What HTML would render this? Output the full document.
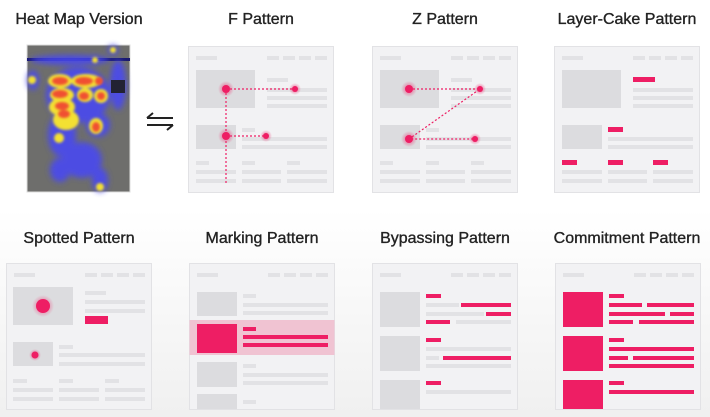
<!DOCTYPE html>
<html><head><meta charset="utf-8"><style>
html,body{margin:0;padding:0;width:710px;height:417px;overflow:hidden;background:#fff}
svg{display:block}
text{font-family:"Liberation Sans",sans-serif;font-size:16px;fill:#222;text-anchor:middle;stroke:#222;stroke-width:0.35}
.g{fill:#e2e2e5}.im{fill:#dcdcdf}.p{fill:#ee1e64}.pn{fill:#f2f2f4;stroke:#e2e2e5;stroke-width:1}
</style></head><body>
<svg width="710" height="417" viewBox="0 0 710 417" xmlns="http://www.w3.org/2000/svg">
<defs>
<linearGradient id="bg" x1="0" y1="0" x2="0" y2="1"><stop offset="0.5" stop-color="#fff"/><stop offset="1" stop-color="#f0f0f0"/></linearGradient>
<filter id="bl" x="-50%" y="-50%" width="200%" height="200%"><feGaussianBlur stdDeviation="3"/></filter>
<filter id="bl2" x="-50%" y="-50%" width="200%" height="200%"><feGaussianBlur stdDeviation="1.2"/></filter>
<radialGradient id="glow"><stop offset="0.5" stop-color="#ee1e64" stop-opacity="0.35"/><stop offset="1" stop-color="#ee1e64" stop-opacity="0"/></radialGradient>
<g id="hdr">
<rect class="pn" x="0.5" y="0.5" width="145" height="146"/>
<rect class="g" x="8" y="10" width="21" height="4"/>
<rect class="g" x="79" y="10" width="12" height="4"/><rect class="g" x="95" y="10" width="12" height="4"/><rect class="g" x="111" y="10" width="12" height="4"/><rect class="g" x="127" y="10" width="12" height="4"/>
</g>
<g id="std">
<use href="#hdr"/>
<rect class="im" x="8" y="24" width="59" height="38"/>
<rect class="g" x="79" y="32" width="21" height="4"/>
<rect class="g" x="79" y="42" width="60" height="4"/><rect class="g" x="79" y="50" width="60" height="4"/><rect class="g" x="79" y="58" width="60" height="4"/>
<rect class="im" x="8" y="79" width="40" height="24"/>
<rect class="g" x="54" y="82" width="13" height="4"/>
<rect class="g" x="54" y="91" width="85" height="4"/><rect class="g" x="54" y="99" width="85" height="4"/>
<rect class="g" x="8" y="115" width="13" height="4"/><rect class="g" x="54" y="115" width="13" height="4"/><rect class="g" x="99" y="115" width="13" height="4"/>
<rect class="g" x="8" y="124" width="40" height="4"/><rect class="g" x="54" y="124" width="39" height="4"/><rect class="g" x="99" y="124" width="40" height="4"/>
<rect class="g" x="8" y="133" width="40" height="4"/><rect class="g" x="54" y="133" width="39" height="4"/><rect class="g" x="99" y="133" width="40" height="4"/>
</g>
</defs>
<rect width="710" height="417" fill="url(#bg)"/>

<text x="79" y="24">Heat Map Version</text>
<text x="261" y="24">F Pattern</text>
<text x="445" y="24">Z Pattern</text>
<text x="627" y="24">Layer-Cake Pattern</text>
<text x="79" y="243">Spotted Pattern</text>
<text x="262" y="243">Marking Pattern</text>
<text x="445" y="243">Bypassing Pattern</text>
<text x="627" y="243">Commitment Pattern</text>

<!-- heatmap -->
<rect x="27" y="45" width="103" height="147" fill="#6e6e6c" stroke="#ddd"/>
<rect x="27" y="58" width="103" height="3" fill="#1a1a70"/>
<g filter="url(#bl)" fill="#4a4af0" opacity="0.9">
<ellipse cx="78" cy="95" rx="32" ry="28"/><ellipse cx="62" cy="135" rx="14" ry="22"/><ellipse cx="98" cy="125" rx="12" ry="12"/>
<ellipse cx="70" cy="60" rx="40" ry="5"/><ellipse cx="33" cy="80" rx="6" ry="10"/><ellipse cx="82" cy="160" rx="20" ry="18"/>
<ellipse cx="100" cy="180" rx="8" ry="12"/><ellipse cx="118" cy="85" rx="8" ry="25"/><ellipse cx="60" cy="170" rx="10" ry="12"/>
<circle cx="113" cy="50" r="5"/><circle cx="95" cy="60" r="5"/>
</g>
<g filter="url(#bl2)" fill="#f3e030">
<ellipse cx="60" cy="81" rx="12" ry="7"/><ellipse cx="86" cy="81" rx="15" ry="7"/><ellipse cx="62" cy="95" rx="12" ry="7"/><ellipse cx="85" cy="95" rx="8" ry="7"/><ellipse cx="101" cy="96" rx="7" ry="7"/>
<ellipse cx="62" cy="107" rx="13" ry="9"/><ellipse cx="66" cy="120" rx="13" ry="10"/><ellipse cx="96" cy="126" rx="7" ry="8"/>
<circle cx="59" cy="138" r="5"/><circle cx="100" cy="187" r="4"/><circle cx="32" cy="80" r="4"/><circle cx="95" cy="60" r="3"/><circle cx="113" cy="50" r="3"/>
</g>
<g filter="url(#bl2)" fill="#f05030">
<ellipse cx="60" cy="81" rx="8" ry="4"/><ellipse cx="84" cy="81" rx="9" ry="4"/><ellipse cx="99" cy="81" rx="4" ry="4"/>
<ellipse cx="60" cy="94" rx="8" ry="4"/><ellipse cx="84" cy="96" rx="5" ry="4"/><ellipse cx="101" cy="96" rx="4" ry="4"/>
<ellipse cx="62" cy="106" rx="7" ry="4"/><ellipse cx="64" cy="114" rx="6" ry="4"/><ellipse cx="96" cy="127" rx="4" ry="5"/>
</g>
<rect x="111" y="80" width="14" height="13" fill="#223"/>

<!-- arrows -->
<g stroke="#222" stroke-width="2" fill="none">
<path d="M147 118 H173 M147 118 L153 113"/><path d="M147 125 H173 M173 125 L167 130"/>
</g>

<!-- F -->
<g transform="translate(188,46)"><use href="#std"/></g>
<g stroke="#ee1e64" stroke-width="1.2" stroke-dasharray="2,2" fill="none">
<path d="M226 89 H295 M226 89 V183 M226 136 H266"/>
</g>
<circle cx="226" cy="89" r="8" fill="url(#glow)"/><circle cx="226" cy="89" r="4" class="p"/>
<circle cx="295" cy="89" r="6" fill="url(#glow)"/><circle cx="295" cy="89" r="3" class="p"/>
<circle cx="226" cy="136" r="8" fill="url(#glow)"/><circle cx="226" cy="136" r="4" class="p"/>
<circle cx="266" cy="136" r="6" fill="url(#glow)"/><circle cx="266" cy="136" r="3" class="p"/>

<!-- Z -->
<g transform="translate(372,46)"><use href="#std"/></g>
<g stroke="#ee1e64" stroke-width="1.2" stroke-dasharray="2,2" fill="none">
<path d="M409 89 H480 L409 139 H475"/>
</g>
<circle cx="409" cy="89" r="8" fill="url(#glow)"/><circle cx="409" cy="89" r="4" class="p"/>
<circle cx="480" cy="89" r="6" fill="url(#glow)"/><circle cx="480" cy="89" r="3" class="p"/>
<circle cx="409" cy="139" r="8" fill="url(#glow)"/><circle cx="409" cy="139" r="4" class="p"/>
<circle cx="475" cy="139" r="6" fill="url(#glow)"/><circle cx="475" cy="139" r="3" class="p"/>

<!-- Layer cake -->
<g transform="translate(554,46)"><use href="#std"/>
<rect class="p" x="79" y="31" width="22" height="5"/>
<rect class="p" x="54" y="81" width="15" height="5"/>
<rect class="p" x="8" y="114" width="15" height="5"/><rect class="p" x="54" y="114" width="15" height="5"/><rect class="p" x="99" y="114" width="15" height="5"/>
</g>

<!-- Spotted -->
<g transform="translate(6,263)"><use href="#hdr"/>
<rect class="im" x="7" y="24" width="60" height="38"/>
<rect class="g" x="79" y="28" width="21" height="4"/>
<rect class="g" x="79" y="37" width="60" height="4"/><rect class="g" x="79" y="46" width="60" height="4"/>
<rect class="p" x="79" y="53" width="23" height="8"/>
<rect class="im" x="7" y="79" width="40" height="24"/>
<rect class="g" x="53" y="82" width="14" height="4"/>
<rect class="g" x="53" y="90" width="86" height="4"/><rect class="g" x="53" y="99" width="86" height="4"/>
<rect class="g" x="7" y="116" width="14" height="4"/><rect class="g" x="53" y="116" width="14" height="4"/><rect class="g" x="99" y="116" width="14" height="4"/>
<rect class="g" x="7" y="125" width="40" height="4"/><rect class="g" x="53" y="125" width="40" height="4"/><rect class="g" x="99" y="125" width="40" height="4"/>
<rect class="g" x="7" y="134" width="40" height="4"/><rect class="g" x="53" y="134" width="40" height="4"/><rect class="g" x="99" y="134" width="40" height="4"/>
<circle cx="37" cy="43" r="11" fill="url(#glow)"/><circle cx="37" cy="43" r="7" class="p"/>
<circle cx="29" cy="92" r="6" fill="url(#glow)"/><circle cx="29" cy="92" r="3.5" class="p"/>
</g>

<!-- Marking -->
<g transform="translate(189,263)"><use href="#hdr"/>
<rect class="im" x="8" y="29" width="40" height="24"/>
<rect class="g" x="54" y="31" width="13" height="4"/><rect class="g" x="54" y="40" width="85" height="4"/><rect class="g" x="54" y="48" width="85" height="4"/>
<rect x="0.5" y="57" width="145" height="35" fill="#f0c3d2"/>
<rect class="p" x="8" y="61" width="40" height="29"/>
<rect class="p" x="54" y="64" width="13" height="4"/><rect class="p" x="54" y="72" width="85" height="4"/><rect class="p" x="54" y="80" width="85" height="4"/>
<rect class="im" x="8" y="99" width="40" height="25"/>
<rect class="g" x="54" y="101" width="13" height="4"/><rect class="g" x="54" y="110" width="85" height="4"/><rect class="g" x="54" y="118" width="85" height="4"/>
<rect class="im" x="8" y="131" width="40" height="15"/>
<rect class="g" x="54" y="137" width="13" height="4"/>
</g>

<!-- Bypassing -->
<g transform="translate(372,263)"><use href="#hdr"/>
<rect class="im" x="8" y="29" width="40" height="35"/><rect class="im" x="8" y="73" width="40" height="35"/><rect class="im" x="8" y="117" width="40" height="29"/>
<rect class="p" x="54" y="31" width="15" height="4"/>
<rect class="g" x="54" y="40" width="33" height="4"/><rect class="p" x="89" y="40" width="50" height="4"/>
<rect class="g" x="54" y="49" width="58" height="4"/><rect class="p" x="114" y="49" width="25" height="4"/>
<rect class="p" x="54" y="57" width="24" height="4"/><rect class="g" x="84" y="57" width="55" height="4"/>
<rect class="p" x="54" y="75" width="15" height="4"/>
<rect class="g" x="54" y="84" width="85" height="4"/>
<rect class="g" x="54" y="93" width="13" height="4"/><rect class="p" x="71" y="93" width="68" height="4"/>
<rect class="g" x="54" y="101" width="85" height="4"/>
<rect class="p" x="54" y="118" width="15" height="4"/><rect class="g" x="54" y="127" width="85" height="4"/>
</g>

<!-- Commitment -->
<g transform="translate(555,263)"><use href="#hdr"/>
<rect class="p" x="8" y="29" width="40" height="35"/><rect class="p" x="8" y="73" width="40" height="35"/><rect class="p" x="8" y="117" width="40" height="29"/>
<rect class="p" x="54" y="31" width="15" height="4"/>
<rect class="p" x="54" y="40" width="33" height="4"/><rect class="p" x="92" y="40" width="47" height="4"/>
<rect class="p" x="54" y="49" width="56" height="4"/><rect class="p" x="115" y="49" width="24" height="4"/>
<rect class="p" x="54" y="57" width="24" height="4"/><rect class="p" x="84" y="57" width="55" height="4"/>
<rect class="p" x="54" y="75" width="15" height="4"/>
<rect class="p" x="54" y="84" width="85" height="4"/>
<rect class="p" x="54" y="93" width="19" height="4"/><rect class="p" x="78" y="93" width="61" height="4"/>
<rect class="p" x="54" y="101" width="85" height="4"/>
<rect class="p" x="54" y="118" width="15" height="4"/><rect class="p" x="54" y="127" width="85" height="4"/>
</g>
</svg>
</body></html>
